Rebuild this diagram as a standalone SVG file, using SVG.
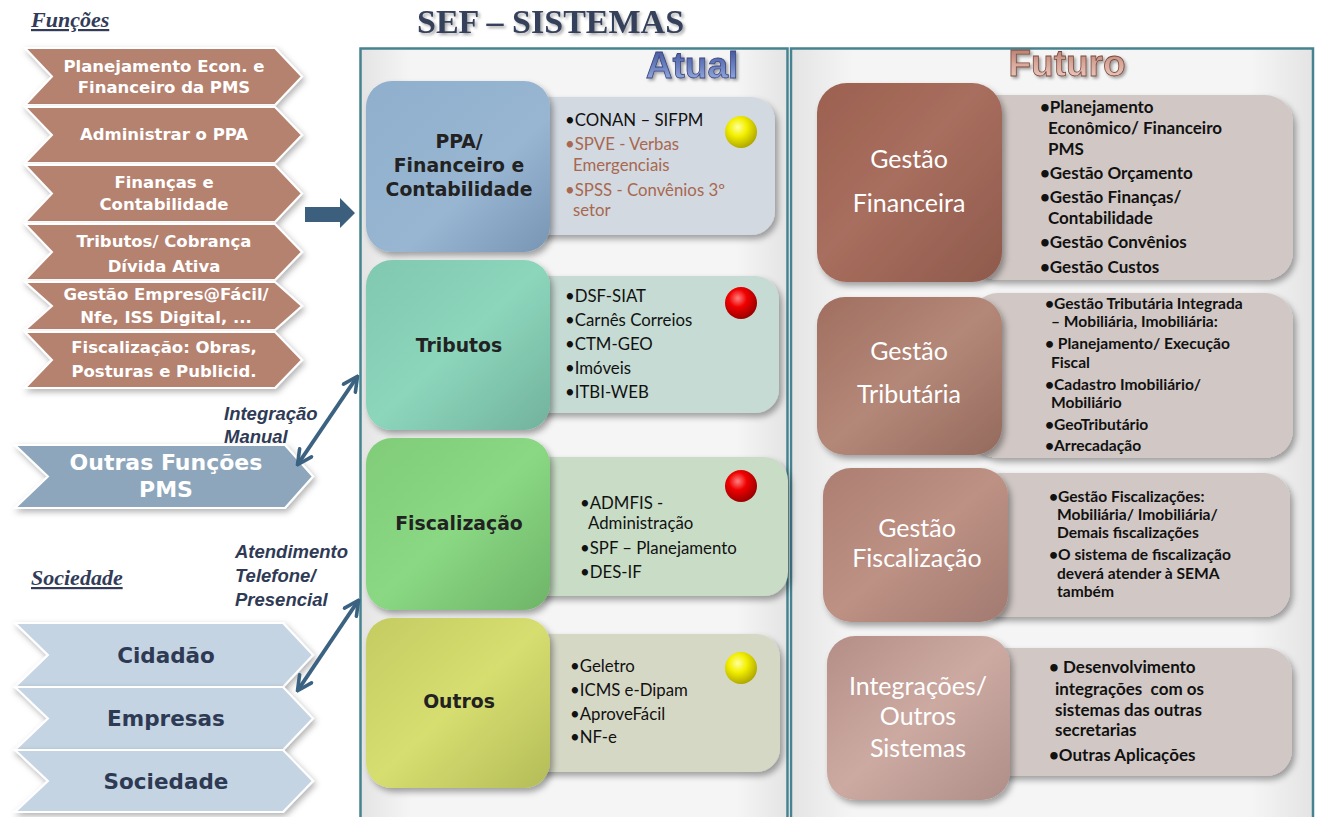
<svg xmlns="http://www.w3.org/2000/svg" width="1317" height="817" viewBox="0 0 1317 817">
<defs>
<filter id="sh" x="-10%" y="-10%" width="125%" height="125%"><feDropShadow dx="3" dy="4" stdDeviation="3" flood-color="#000" flood-opacity="0.35"/></filter>
<filter id="shs" x="-10%" y="-10%" width="125%" height="130%"><feDropShadow dx="2" dy="3" stdDeviation="3" flood-color="#000" flood-opacity="0.3"/></filter>
<filter id="tsh" x="-5%" y="-20%" width="115%" height="150%"><feDropShadow dx="2" dy="2" stdDeviation="1.5" flood-color="#000" flood-opacity="0.35"/></filter>
<linearGradient id="panel" x1="0" y1="0" x2="1" y2="0"><stop offset="0" stop-color="#e4e4e4"/><stop offset="0.12" stop-color="#f5f5f5"/><stop offset="0.88" stop-color="#f5f5f5"/><stop offset="1" stop-color="#e4e4e4"/></linearGradient>
<linearGradient id="gPPA" x1="0" y1="0" x2="1" y2="1"><stop offset="0" stop-color="#8fafcc"/><stop offset="0.6" stop-color="#98b6d2"/><stop offset="1" stop-color="#7896b4"/></linearGradient>
<linearGradient id="gTri" x1="0" y1="0" x2="1" y2="1"><stop offset="0" stop-color="#80c8b0"/><stop offset="0.5" stop-color="#8cd6bc"/><stop offset="1" stop-color="#72b29c"/></linearGradient>
<linearGradient id="gFis" x1="0" y1="0" x2="1" y2="1"><stop offset="0" stop-color="#80cc78"/><stop offset="0.5" stop-color="#8ad884"/><stop offset="1" stop-color="#6eb468"/></linearGradient>
<linearGradient id="gOut" x1="0" y1="0" x2="1" y2="1"><stop offset="0" stop-color="#c4cc62"/><stop offset="0.5" stop-color="#d6de70"/><stop offset="1" stop-color="#b4bc58"/></linearGradient>
<linearGradient id="gGF" x1="0" y1="0" x2="1" y2="1"><stop offset="0" stop-color="#9c6050"/><stop offset="0.45" stop-color="#a86e5e"/><stop offset="1" stop-color="#8e5a4c"/></linearGradient>
<linearGradient id="gGT" x1="0" y1="0" x2="1" y2="1"><stop offset="0" stop-color="#a06e60"/><stop offset="0.5" stop-color="#b48878"/><stop offset="1" stop-color="#946a5e"/></linearGradient>
<linearGradient id="gGFi" x1="0" y1="0" x2="1" y2="1"><stop offset="0" stop-color="#ac7e72"/><stop offset="0.5" stop-color="#bd9184"/><stop offset="1" stop-color="#a27a70"/></linearGradient>
<linearGradient id="gInt" x1="0" y1="0" x2="1" y2="1"><stop offset="0" stop-color="#b48e86"/><stop offset="0.5" stop-color="#ccaaa2"/><stop offset="1" stop-color="#ae8e88"/></linearGradient>
<linearGradient id="gAtual" x1="0" y1="0" x2="0" y2="1"><stop offset="0" stop-color="#3c4c90"/><stop offset="0.5" stop-color="#6a80c0"/><stop offset="1" stop-color="#a8bce6"/></linearGradient>
<linearGradient id="gFut" x1="0" y1="0" x2="0" y2="1"><stop offset="0" stop-color="#a87062"/><stop offset="0.5" stop-color="#d8a89a"/><stop offset="1" stop-color="#f0d4cc"/></linearGradient>
<radialGradient id="yel" cx="0.4" cy="0.35" r="0.7"><stop offset="0" stop-color="#ffffa0"/><stop offset="0.4" stop-color="#f4f000"/><stop offset="1" stop-color="#a8a000"/></radialGradient>
<radialGradient id="red" cx="0.4" cy="0.35" r="0.7"><stop offset="0" stop-color="#ff8080"/><stop offset="0.4" stop-color="#f00000"/><stop offset="1" stop-color="#900000"/></radialGradient>
<marker id="ah" viewBox="0 0 10 10" refX="8.5" refY="5" markerWidth="4.5" markerHeight="4.5" orient="auto-start-reverse" markerUnits="strokeWidth"><path d="M1,1 L9,5 L1,9" fill="none" stroke="#3c6282" stroke-width="2" stroke-linecap="round" stroke-linejoin="round"/></marker>
</defs>
<style>
.fn{fill:#b5826f;stroke:#fff;stroke-width:2;filter:url(#shs)}
.of{fill:#8ea6bc;stroke:#fff;stroke-width:2;filter:url(#shs)}
.so{fill:#c4d4e2;stroke:#fff;stroke-width:2;filter:url(#shs)}
.ft{font-family:"DejaVu Sans",sans-serif;font-weight:bold;font-size:16.5px;fill:#fff;text-anchor:middle}
.ot{font-family:"DejaVu Sans",sans-serif;font-weight:bold;font-size:22px;fill:#fff;text-anchor:middle}
.st{font-family:"DejaVu Sans",sans-serif;font-weight:bold;font-size:21.5px;fill:#2e3a54;text-anchor:middle}
.hd{font-family:"Liberation Serif",serif;font-style:italic;font-weight:bold;font-size:22px;fill:#323c58;text-decoration:underline}
.lb{font-family:"Liberation Sans",Arial,sans-serif;font-style:italic;font-weight:bold;font-size:18.5px;fill:#2f3a55}
.mb{filter:url(#sh)}
.at{font-family:"DejaVu Sans",sans-serif;font-weight:bold;font-size:18.8px;fill:#222;text-anchor:middle}
.dt{font-family:Lato,"Open Sans",sans-serif;font-size:16.8px;fill:#111}
.br{fill:#a8684f}
.fh{font-family:Lato,"Open Sans",sans-serif;font-size:25px;fill:#fff;text-anchor:middle}
.fd{font-family:Lato,"Open Sans",sans-serif;font-weight:bold;font-size:17px;fill:#111}
.fs{font-family:Lato,"Open Sans",sans-serif;font-weight:bold;font-size:15.6px;fill:#111}
.pn{fill:url(#panel);stroke:#46828f;stroke-width:2.5}
.con{fill:none;stroke:#3c6282;stroke-width:4;marker-start:url(#ah);marker-end:url(#ah)}
</style>
<rect x="0" y="0" width="1317" height="817" fill="#fff"/>

<text x="417" y="33" font-family="Liberation Serif,serif" font-weight="bold" font-size="34" fill="#36405a" filter="url(#tsh)">SEF – SISTEMAS</text>

<g id="panel-atual"><rect class="pn" x="360.5" y="48.5" width="427" height="790"/>
<text x="692" y="78" text-anchor="middle" font-family="Liberation Sans,Arial,sans-serif" font-weight="bold" font-size="37" fill="url(#gAtual)" stroke="#3a4680" stroke-width="0.8" filter="url(#tsh)">Atual</text></g>
<g id="panel-futuro"><rect class="pn" x="791" y="48.5" width="522" height="790"/>
<text x="1067" y="76" text-anchor="middle" font-family="Liberation Sans,Arial,sans-serif" font-weight="bold" font-size="37" fill="url(#gFut)" stroke="#7a4a3e" stroke-width="0.8" filter="url(#tsh)">Futuro</text></g>

<text class="hd" x="31" y="27">Funções</text>
<text class="hd" x="31" y="585">Sociedade</text>

<g id="f1"><polygon class="fn" points="25,48 275,48 302,76.5 275,105 25,105 52,76.5"/><text class="ft" x="164" y="72">Planejamento Econ. e</text><text class="ft" x="164" y="93">Financeiro da PMS</text></g>
<g id="f2"><polygon class="fn" points="25,107 275,107 302,135 275,163 25,163 52,135"/><text class="ft" x="164" y="140">Administrar o PPA</text></g>
<g id="f3"><polygon class="fn" points="25,165 275,165 302,193.5 275,222 25,222 52,193.5"/><text class="ft" x="164" y="188">Finanças e</text><text class="ft" x="164" y="210">Contabilidade</text></g>
<g id="f4"><polygon class="fn" points="25,224 275,224 302,252 275,280 25,280 52,252"/><text class="ft" x="164" y="247">Tributos/ Cobrança</text><text class="ft" x="164" y="272">Dívida Ativa</text></g>
<g id="f5"><polygon class="fn" points="25,282 275,282 302,306 275,330 25,330 52,306"/><text class="ft" x="166" y="300">Gestão Empres@Fácil/</text><text class="ft" x="166" y="323">Nfe, ISS Digital, ...</text></g>
<g id="f6"><polygon class="fn" points="25,332 275,332 302,360 275,388 25,388 52,360"/><text class="ft" x="164" y="353">Fiscalização: Obras,</text><text class="ft" x="164" y="377">Posturas e Publicid.</text></g>

<g id="outras"><polygon class="of" points="15,445 285,445 313,476.5 285,508 15,508 48,476.5"/><text class="ot" x="166" y="470">Outras Funções</text><text class="ot" x="166" y="497">PMS</text></g>

<g id="cidadao"><polygon class="so" points="15,623 283,623 313,655 283,687 15,687 48,655"/><text class="st" x="166" y="663">Cidadão</text></g>
<g id="empresas"><polygon class="so" points="15,687 283,687 313,718.5 283,750 15,750 48,718.5"/><text class="st" x="166" y="726">Empresas</text></g>
<g id="sociedade"><polygon class="so" points="15,750 283,750 313,781 283,812 15,812 48,781"/><text class="st" x="166" y="789">Sociedade</text></g>

<g id="connectors">
<polygon points="305,207 340,207 340,198 355,213 340,228 340,222 305,222" fill="#3d5f7e"/>
<line class="con" x1="357" y1="377" x2="298" y2="464"/>
<line class="con" x1="358" y1="601" x2="298" y2="690"/>
<text class="lb" x="224" y="420">Integração</text>
<text class="lb" x="224" y="443">Manual</text>
<text class="lb" x="235" y="558">Atendimento</text>
<text class="lb" x="235" y="582">Telefone/</text>
<text class="lb" x="235" y="606">Presencial</text>
</g>

<g id="ppa">
<rect class="mb" x="520" y="97" width="255" height="138" rx="24" fill="#d3d9e1"/>
<rect class="mb" x="366" y="81" width="184" height="171" rx="26" fill="url(#gPPA)"/>
<text class="at" x="459" y="148">PPA/</text><text class="at" x="459" y="172">Financeiro e</text><text class="at" x="459" y="196">Contabilidade</text>
<text class="dt" x="565" y="126">•CONAN – SIFPM</text>
<text class="dt br" x="565" y="150">•SPVE - Verbas</text><text class="dt br" x="573" y="171">Emergenciais</text>
<text class="dt br" x="565" y="196">•SPSS - Convênios 3º</text><text class="dt br" x="573" y="216">setor</text>
<circle cx="741" cy="132" r="16" fill="url(#yel)"/>
</g>

<g id="tributos">
<rect class="mb" x="520" y="276" width="259" height="137" rx="24" fill="#c6dbd3"/>
<rect class="mb" x="366" y="260" width="184" height="170" rx="26" fill="url(#gTri)"/>
<text class="at" x="459" y="352">Tributos</text>
<text class="dt" x="565" y="302">•DSF-SIAT</text><text class="dt" x="565" y="326">•Carnês Correios</text><text class="dt" x="565" y="350">•CTM-GEO</text><text class="dt" x="565" y="374">•Imóveis</text><text class="dt" x="565" y="398">•ITBI-WEB</text>
<circle cx="741" cy="303" r="16" fill="url(#red)"/>
</g>

<g id="fiscalizacao">
<rect class="mb" x="520" y="457" width="268" height="139" rx="24" fill="#c8dcc6"/>
<rect class="mb" x="366" y="438" width="184" height="172" rx="26" fill="url(#gFis)"/>
<text class="at" x="459" y="530">Fiscalização</text>
<text class="dt" x="580" y="509">•ADMFIS -</text><text class="dt" x="588" y="529">Administração</text><text class="dt" x="580" y="554">•SPF – Planejamento</text><text class="dt" x="580" y="578">•DES-IF</text>
<circle cx="741" cy="486" r="16" fill="url(#red)"/>
</g>

<g id="outros">
<rect class="mb" x="520" y="634" width="260" height="138" rx="24" fill="#d6d8c6"/>
<rect class="mb" x="366" y="618" width="184" height="170" rx="26" fill="url(#gOut)"/>
<text class="at" x="459" y="708">Outros</text>
<text class="dt" x="570" y="672">•Geletro</text><text class="dt" x="570" y="696">•ICMS e-Dipam</text><text class="dt" x="570" y="720">•AproveFácil</text><text class="dt" x="570" y="743">•NF-e</text>
<circle cx="741" cy="668" r="16" fill="url(#yel)"/>
</g>

<g id="gestao-financeira">
<rect class="mb" x="970" y="95" width="323" height="185" rx="28" fill="#d1c8c5"/>
<rect class="mb" x="817" y="83" width="185" height="199" rx="30" fill="url(#gGF)"/>
<text class="fh" x="909" y="168">Gestão</text><text class="fh" x="909" y="212">Financeira</text>
<text class="fd" x="1040" y="113">•Planejamento</text><text class="fd" x="1048" y="134">Econômico/ Financeiro</text><text class="fd" x="1048" y="155">PMS</text>
<text class="fd" x="1040" y="179">•Gestão Orçamento</text><text class="fd" x="1040" y="203">•Gestão Finanças/</text><text class="fd" x="1048" y="224">Contabilidade</text>
<text class="fd" x="1040" y="248">•Gestão Convênios</text><text class="fd" x="1040" y="273">•Gestão Custos</text>
</g>

<g id="gestao-tributaria">
<rect class="mb" x="970" y="293" width="323" height="165" rx="28" fill="#d1c8c5"/>
<rect class="mb" x="817" y="297" width="185" height="158" rx="28" fill="url(#gGT)"/>
<text class="fh" x="909" y="360">Gestão</text><text class="fh" x="909" y="403">Tributária</text>
<text class="fs" x="1045" y="309">•Gestão Tributária Integrada</text><text class="fs" x="1051" y="327">– Mobiliária, Imobiliária:</text>
<text class="fs" x="1045" y="349">• Planejamento/ Execução</text><text class="fs" x="1051" y="368">Fiscal</text>
<text class="fs" x="1045" y="390">•Cadastro Imobiliário/</text><text class="fs" x="1051" y="408">Mobiliário</text>
<text class="fs" x="1045" y="430">•GeoTributário</text><text class="fs" x="1045" y="451">•Arrecadação</text>
</g>

<g id="gestao-fiscalizacao">
<rect class="mb" x="975" y="473" width="315" height="144" rx="26" fill="#d1c8c5"/>
<rect class="mb" x="823" y="468" width="185" height="154" rx="28" fill="url(#gGFi)"/>
<text class="fh" x="917" y="537">Gestão</text><text class="fh" x="917" y="567">Fiscalização</text>
<text class="fs" x="1049" y="502">•Gestão Fiscalizações:</text><text class="fs" x="1057" y="520">Mobiliária/ Imobiliária/</text><text class="fs" x="1057" y="538">Demais fiscalizações</text>
<text class="fs" x="1049" y="560">•O sistema de fiscalização</text><text class="fs" x="1057" y="579">deverá atender à SEMA</text><text class="fs" x="1057" y="597">também</text>
</g>

<g id="integracoes">
<rect class="mb" x="978" y="648" width="314" height="128" rx="26" fill="#d1c8c5"/>
<rect class="mb" x="827" y="636" width="183" height="164" rx="28" fill="url(#gInt)"/>
<text class="fh" x="918" y="695">Integrações/</text><text class="fh" x="918" y="725">Outros</text><text class="fh" x="918" y="757">Sistemas</text>
<text class="fd" x="1049" y="673">• Desenvolvimento</text><text class="fd" x="1055" y="695" xml:space="preserve">integrações  com os</text><text class="fd" x="1055" y="716">sistemas das outras</text><text class="fd" x="1055" y="736">secretarias</text>
<text class="fd" x="1049" y="761">•Outras Aplicações</text>
</g>
</svg>
